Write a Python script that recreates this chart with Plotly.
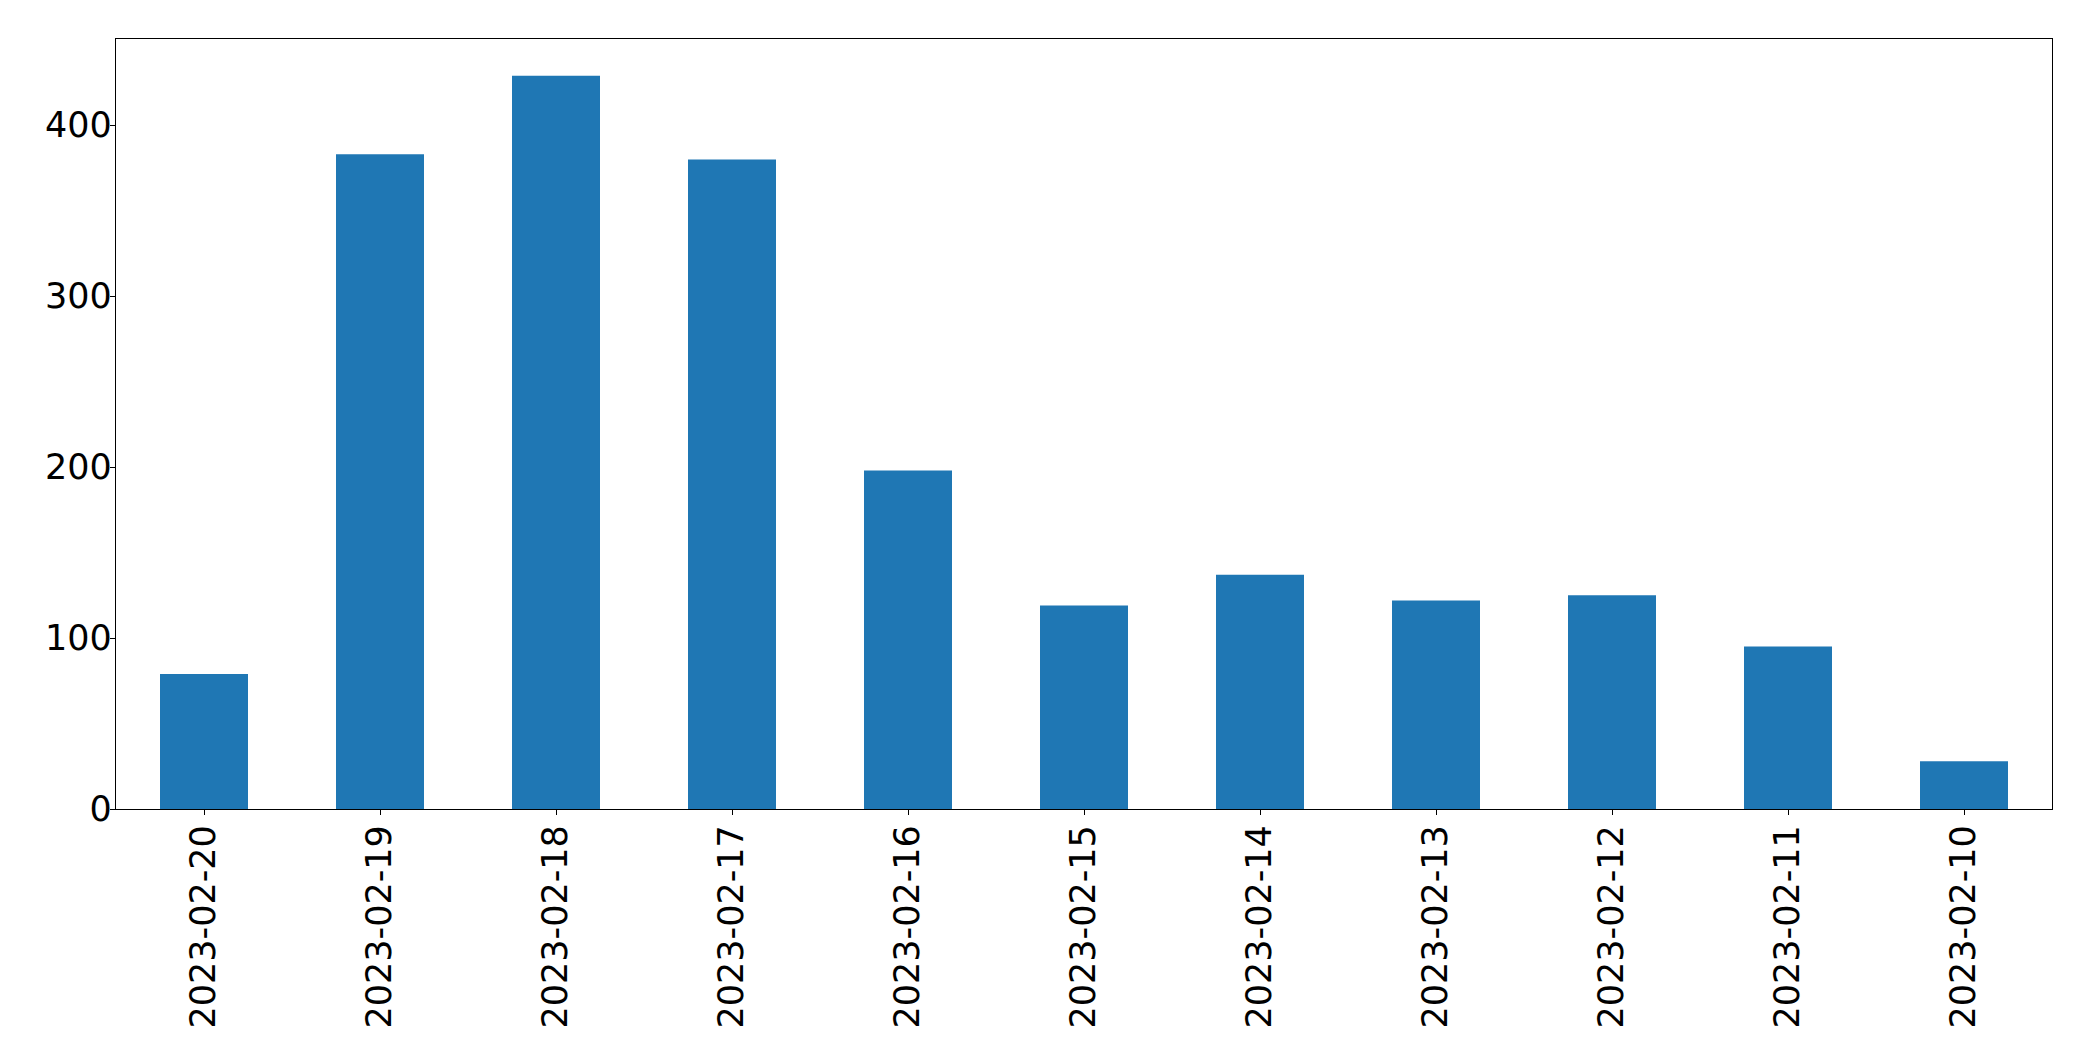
import plotly.graph_objects as go

dates = ["2023-02-20", "2023-02-19", "2023-02-18", "2023-02-17", "2023-02-16",
         "2023-02-15", "2023-02-14", "2023-02-13", "2023-02-12", "2023-02-11",
         "2023-02-10"]
counts = [79, 383, 429, 380, 198, 119, 137, 122, 125, 95, 28]
y_ticks = [0, 100, 200, 300, 400]

fig = go.Figure(go.Bar(x=dates, y=counts, width=0.5, marker=dict(color="#1f77b4", line=dict(width=0))))

axis_common = dict(showline=True, linecolor="black", linewidth=1.3, mirror=True,
                   ticks="outside", ticklen=5, tickwidth=1.3, tickcolor="black",
                   showgrid=False, zeroline=False,
                   tickfont=dict(family="DejaVu Sans", size=35, color="black"))

fig.update_layout(
    width=2093, height=1061,
    margin=dict(l=108, r=49, t=31, b=260),
    plot_bgcolor="white", paper_bgcolor="white",
    showlegend=False,
    xaxis=dict(type="category", range=[-0.5, 10.5], tickangle=-90, ticklabelstandoff=-4, **axis_common),
    yaxis=dict(range=[0, 450.45], tickvals=y_ticks, ticktext=[str(v) for v in y_ticks], ticklabelstandoff=-9, **axis_common),
)

fig.write_html("out.html")
